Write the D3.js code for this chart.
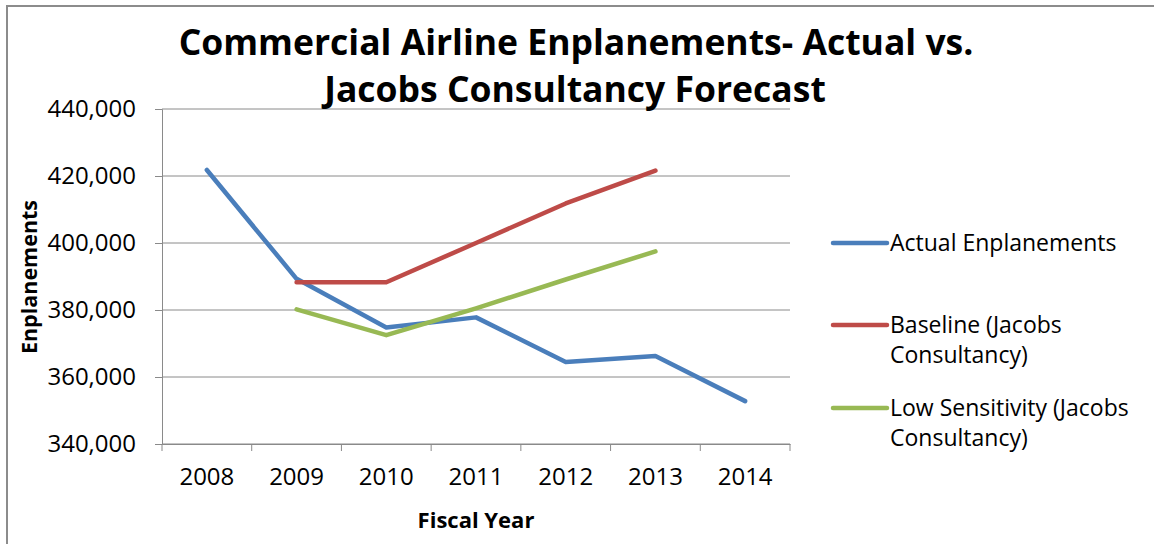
<!DOCTYPE html>
<html>
<head>
<meta charset="utf-8">
<script src="https://cdn.jsdelivr.net/npm/d3@7"></script>
<style>
  body { margin: 0; background: #fff; }
  text { font-family: "Open Sans", "Noto Sans", sans-serif; fill: #000; }
</style>
</head>
<body>
<svg id="chart"></svg>
<script>
const years = ["2008", "2009", "2010", "2011", "2012", "2013", "2014"]
const actual = [421800, 389300, 374800, 377800, 364500, 366300, 352800]
const baseline = [null, 388300, 388300, 400000, 411800, 421600, null]
const lowSens = [null, 380200, 372500, 380500, 389100, 397500, null]
const yTicks = [340000, 360000, 380000, 400000, 420000, 440000]
const seriesNames = ["Actual Enplanements", "Baseline (Jacobs Consultancy)", "Low Sensitivity (Jacobs Consultancy)"]
const colors = ["#4a7ebb", "#be4b48", "#98b954"]

const width = 1154, height = 544

const svg = d3.select("#chart")
  .attr("width", width)
  .attr("height", height)

// outer frame (only top and left are visible in the crop)
svg.append("path")
  .attr("d", "M7,544 L7,6 L1154,6")
  .attr("fill", "none")
  .attr("stroke", "#8c8c8c")
  .attr("stroke-width", 2)

const x = d3.scaleBand().domain(years).range([162, 790])
const y = d3.scaleLinear().domain([340000, 440000]).range([444, 109])

// gridlines
svg.append("g")
  .selectAll("line")
  .data(yTicks)
  .join("line")
  .attr("x1", 162).attr("x2", 790)
  .attr("y1", d => y(d)).attr("y2", d => y(d))
  .attr("stroke", "#8a8a8a")
  .attr("stroke-width", 1)

// y axis
const yAxis = svg.append("g")
  .attr("transform", "translate(162,0)")
  .call(d3.axisLeft(y).tickValues(yTicks).tickSize(7).tickPadding(19).tickFormat(d3.format(",")))
yAxis.select(".domain").attr("stroke", "#8a8a8a")
yAxis.selectAll(".tick line").attr("stroke", "#8a8a8a")
yAxis.selectAll("text").style("font-size", "24px").attr("fill", "#1a1a1a")

// x axis, ticks at category boundaries
const xAxis = svg.append("g")
  .attr("transform", "translate(0,444)")
  .call(d3.axisBottom(x).tickSize(0).tickPadding(24))
xAxis.select(".domain").attr("stroke", "#8a8a8a")
xAxis.selectAll("text").style("font-size", "24px").attr("fill", "#1a1a1a")
svg.append("g")
  .selectAll("line")
  .data(years.concat(["end"]))
  .join("line")
  .attr("x1", (d, i) => 162 + i * x.step())
  .attr("x2", (d, i) => 162 + i * x.step())
  .attr("y1", 444).attr("y2", 451)
  .attr("stroke", "#8a8a8a")

// lines
const line = d3.line()
  .defined(d => d[1] != null)
  .x(d => x(d[0]) + x.bandwidth() / 2)
  .y(d => y(d[1]))

const allSeries = [actual, baseline, lowSens]
allSeries.forEach(function(vals, i) {
  svg.append("path")
    .datum(years.map((yr, j) => [yr, vals[j]]))
    .attr("d", line)
    .attr("fill", "none")
    .attr("stroke", colors[i])
    .attr("stroke-width", 4.5)
    .attr("stroke-linejoin", "round")
    .attr("stroke-linecap", "round")
})

// title
const title = svg.append("text")
  .attr("text-anchor", "middle")
  .style("font-size", "35.5px")
  .style("font-weight", "bold")
title.append("tspan").attr("x", 576).attr("y", 55).text("Commercial Airline Enplanements- Actual vs.")
title.append("tspan").attr("x", 575).attr("y", 102).text("Jacobs Consultancy Forecast")

// axis titles
svg.append("text")
  .attr("transform", "translate(37,277) rotate(-90)")
  .attr("text-anchor", "middle")
  .style("font-size", "21.5px")
  .style("font-weight", "bold")
  .text("Enplanements")

svg.append("text")
  .attr("x", 476).attr("y", 528)
  .attr("text-anchor", "middle")
  .style("font-size", "22px")
  .style("font-weight", "bold")
  .text("Fiscal Year")

// legend
const legendRows = [
  {lines: ["Actual Enplanements"], y: 243},
  {lines: ["Baseline (Jacobs", "Consultancy)"], y: 325},
  {lines: ["Low Sensitivity (Jacobs", "Consultancy)"], y: 408}
]
const legend = svg.append("g")
legendRows.forEach(function(row, i) {
  legend.append("line")
    .attr("x1", 833).attr("x2", 887)
    .attr("y1", row.y).attr("y2", row.y)
    .attr("stroke", colors[i])
    .attr("stroke-width", 4.5)
    .attr("stroke-linecap", "round")
  const t = legend.append("text")
    .style("font-size", "23px")
    .attr("fill", "#1a1a1a")
  row.lines.forEach(function(s, k) {
    t.append("tspan").attr("x", 890).attr("y", row.y + 8 + k * 30).text(s)
  })
})
</script>
</body>
</html>
